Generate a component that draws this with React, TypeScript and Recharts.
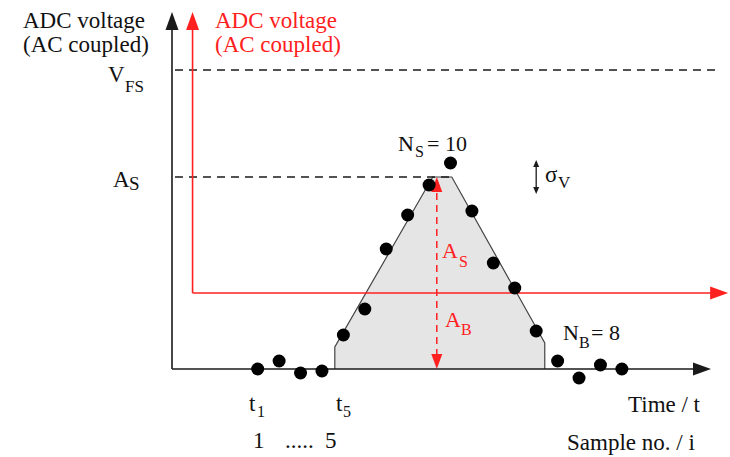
import React from "react";
import {
  ComposedChart,
  Area,
  Scatter,
  XAxis,
  YAxis,
  ReferenceLine,
  ReferenceDot,
} from "recharts";

// samples i = 1..18, ADC voltage (arbitrary units, 0 = baseline)
const sampleNo = [1, 2, 3, 4, 5, 6, 7, 8, 9, 10, 11, 12, 13, 14, 15, 16, 17, 18];
const sampleVolt = [0, 0.8, -0.4, -0.2, 3.4, 6.0, 12.0, 15.4, 18.4, 20.6, 15.8, 10.6, 8.1, 3.8, 0.8, -0.9, 0.4, 0.0];

// ideal pulse shape (trapezoid)
const pulseT = [4.6, 4.6, 9.17, 10.06, 14.4, 14.4];
const pulseV = [0, 2.2, 19.2, 19.2, 2.6, 0];

// levels
const A_S = 19.2;
const V_FS = 29.9;
const AC_BASE = 7.6;
const SIGMA_HI = 20.9;
const SIGMA_LO = 17.5;

// axis positions (in sample units)
const AXIS_T = -3;
const RED_AXIS_T = -2.04;
const AXIS_TOP = 35.7;
const BLACK_X_END = 22.16;
const RED_X_END = 22.96;
const DASH_END = 22.6;
const AS_MARK_T = 9.36;
const SIGMA_T = 14.0;

const samples = sampleNo.map((x, k) => ({ x, y: sampleVolt[k] }));
const pulse = pulseT.map((x, k) => ({ x, y: pulseV[k] }));

const BLACK = "#1a1a1a";
const RED = "#ff2020";
const SERIF =
  "'Liberation Serif', 'DejaVu Serif', 'Noto Serif', Tinos, FreeSerif, 'Nimbus Roman', 'Nimbus Roman No9 L', Times, 'Times New Roman', serif";

type Dir = "up" | "down" | "right";
const arrow = (dir: Dir, len: number, half: number, color: string) => (p: any) => {
  const { cx, cy } = p;
  let pts = "";
  if (dir === "up") pts = `${cx},${cy} ${cx - half},${cy + len} ${cx + half},${cy + len}`;
  if (dir === "down") pts = `${cx},${cy} ${cx - half},${cy - len} ${cx + half},${cy - len}`;
  if (dir === "right") pts = `${cx},${cy} ${cx - len},${cy - half} ${cx - len},${cy + half}`;
  return <polygon points={pts} fill={color} stroke="none" />;
};

const dot = (p: any) => <circle cx={p.cx} cy={p.cy} r={6.5} fill="#000" />;

type T = { s: string; x: number; y: number; size?: number; color?: string };
const labels: T[] = [
  { s: "ADC voltage", x: 23, y: 28 },
  { s: "(AC coupled)", x: 23, y: 52 },
  { s: "ADC voltage", x: 215, y: 28, color: RED },
  { s: "(AC coupled)", x: 215, y: 52, color: RED },
  { s: "V", x: 108, y: 82 },
  { s: "FS", x: 125, y: 92, size: 17 },
  { s: "A", x: 113, y: 187 },
  { s: "S", x: 129, y: 190, size: 19 },
  { s: "N", x: 398, y: 151, size: 22 },
  { s: "S", x: 415, y: 157, size: 16 },
  { s: "= 10", x: 427, y: 151, size: 22 },
  { s: "σ", x: 545, y: 182 },
  { s: "V", x: 558, y: 188, size: 17 },
  { s: "A", x: 442, y: 258, size: 22, color: RED },
  { s: "S", x: 459, y: 267, size: 16, color: RED },
  { s: "A", x: 445, y: 327, size: 22, color: RED },
  { s: "B", x: 461, y: 335, size: 16, color: RED },
  { s: "N", x: 563, y: 340, size: 22 },
  { s: "B", x: 579, y: 348, size: 16 },
  { s: "= 8", x: 591, y: 340, size: 22 },
  { s: "t", x: 249, y: 411 },
  { s: "1", x: 257, y: 417, size: 16 },
  { s: "t", x: 336, y: 411 },
  { s: "5", x: 343, y: 417, size: 16 },
  { s: "1", x: 253, y: 448 },
  { s: ".....", x: 285, y: 448 },
  { s: "5", x: 325, y: 448 },
  { s: "Time / t", x: 628, y: 412 },
  { s: "Sample no. / i", x: 567, y: 450 },
];

export default function App() {
  return (
    <div style={{ position: "absolute", left: 0, top: 0, width: 730, height: 457, background: "#fff" }}>
      <ComposedChart width={730} height={457} margin={{ top: 9, right: 1, bottom: 0, left: 172 }}>
        <XAxis type="number" dataKey="x" domain={[-3, 23]} hide allowDataOverflow />
        <YAxis type="number" domain={[-8.8, 36]} hide allowDataOverflow />

        {/* pulse shape */}
        <Area
          data={pulse}
          dataKey="y"
          type="linear"
          baseValue={0}
          fill="#e5e5e5"
          fillOpacity={1}
          stroke="#444"
          strokeWidth={1.2}
          isAnimationActive={false}
        />

        {/* dashed levels */}
        <ReferenceLine segment={[{ x: -2.86, y: V_FS }, { x: DASH_END, y: V_FS }]} stroke={BLACK} strokeWidth={1.3} strokeDasharray="8 6" ifOverflow="visible" />
        <ReferenceLine segment={[{ x: -2.86, y: A_S }, { x: 10.06, y: A_S }]} stroke={BLACK} strokeWidth={1.3} strokeDasharray="8 6" ifOverflow="visible" />

        {/* black axes */}
        <ReferenceLine segment={[{ x: AXIS_T, y: 0 }, { x: AXIS_T, y: AXIS_TOP - 1.6 }]} stroke={BLACK} strokeWidth={1.6} ifOverflow="visible" />
        <ReferenceDot x={AXIS_T} y={AXIS_TOP} r={0} ifOverflow="visible" shape={arrow("up", 18, 6.5, BLACK)} />
        <ReferenceLine segment={[{ x: AXIS_T, y: 0 }, { x: BLACK_X_END - 0.7, y: 0 }]} stroke={BLACK} strokeWidth={1.6} ifOverflow="visible" />
        <ReferenceDot x={BLACK_X_END} y={0} r={0} ifOverflow="visible" shape={arrow("right", 18, 6.5, BLACK)} />

        {/* red (AC coupled) axes */}
        <ReferenceLine segment={[{ x: RED_AXIS_T, y: AC_BASE }, { x: RED_AXIS_T, y: AXIS_TOP - 1.6 }]} stroke={RED} strokeWidth={1.6} ifOverflow="visible" />
        <ReferenceDot x={RED_AXIS_T} y={AXIS_TOP} r={0} ifOverflow="visible" shape={arrow("up", 18, 6.5, RED)} />
        <ReferenceLine segment={[{ x: RED_AXIS_T, y: AC_BASE }, { x: RED_X_END - 0.7, y: AC_BASE }]} stroke={RED} strokeWidth={1.6} ifOverflow="visible" />
        <ReferenceDot x={RED_X_END} y={AC_BASE} r={0} ifOverflow="visible" shape={arrow("right", 18, 6.5, RED)} />

        {/* A_S / A_B double arrow */}
        <ReferenceLine segment={[{ x: AS_MARK_T, y: 1.3 }, { x: AS_MARK_T, y: A_S - 1.3 }]} stroke={RED} strokeWidth={1.5} strokeDasharray="7 5" ifOverflow="visible" />
        <ReferenceDot x={AS_MARK_T} y={A_S} r={0} ifOverflow="visible" shape={arrow("up", 15, 5.5, RED)} />
        <ReferenceDot x={AS_MARK_T} y={0} r={0} ifOverflow="visible" shape={arrow("down", 15, 5.5, RED)} />

        {/* sigma_V arrow */}
        <ReferenceLine segment={[{ x: SIGMA_T, y: SIGMA_LO + 0.5 }, { x: SIGMA_T, y: SIGMA_HI - 0.5 }]} stroke={BLACK} strokeWidth={1.3} ifOverflow="visible" />
        <ReferenceDot x={SIGMA_T} y={SIGMA_HI} r={0} ifOverflow="visible" shape={arrow("up", 7, 3, BLACK)} />
        <ReferenceDot x={SIGMA_T} y={SIGMA_LO} r={0} ifOverflow="visible" shape={arrow("down", 7, 3, BLACK)} />

        {/* samples */}
        <Scatter data={samples} dataKey="y" shape={dot} isAnimationActive={false} />
      </ComposedChart>

      <svg width={730} height={457} style={{ position: "absolute", left: 0, top: 0, pointerEvents: "none" }}>
        {labels.map((t, k) => (
          <text key={k} x={t.x} y={t.y} fontFamily={SERIF} fontSize={t.size ?? 23} fill={t.color ?? "#111"}>
            {t.s}
          </text>
        ))}
      </svg>
    </div>
  );
}
